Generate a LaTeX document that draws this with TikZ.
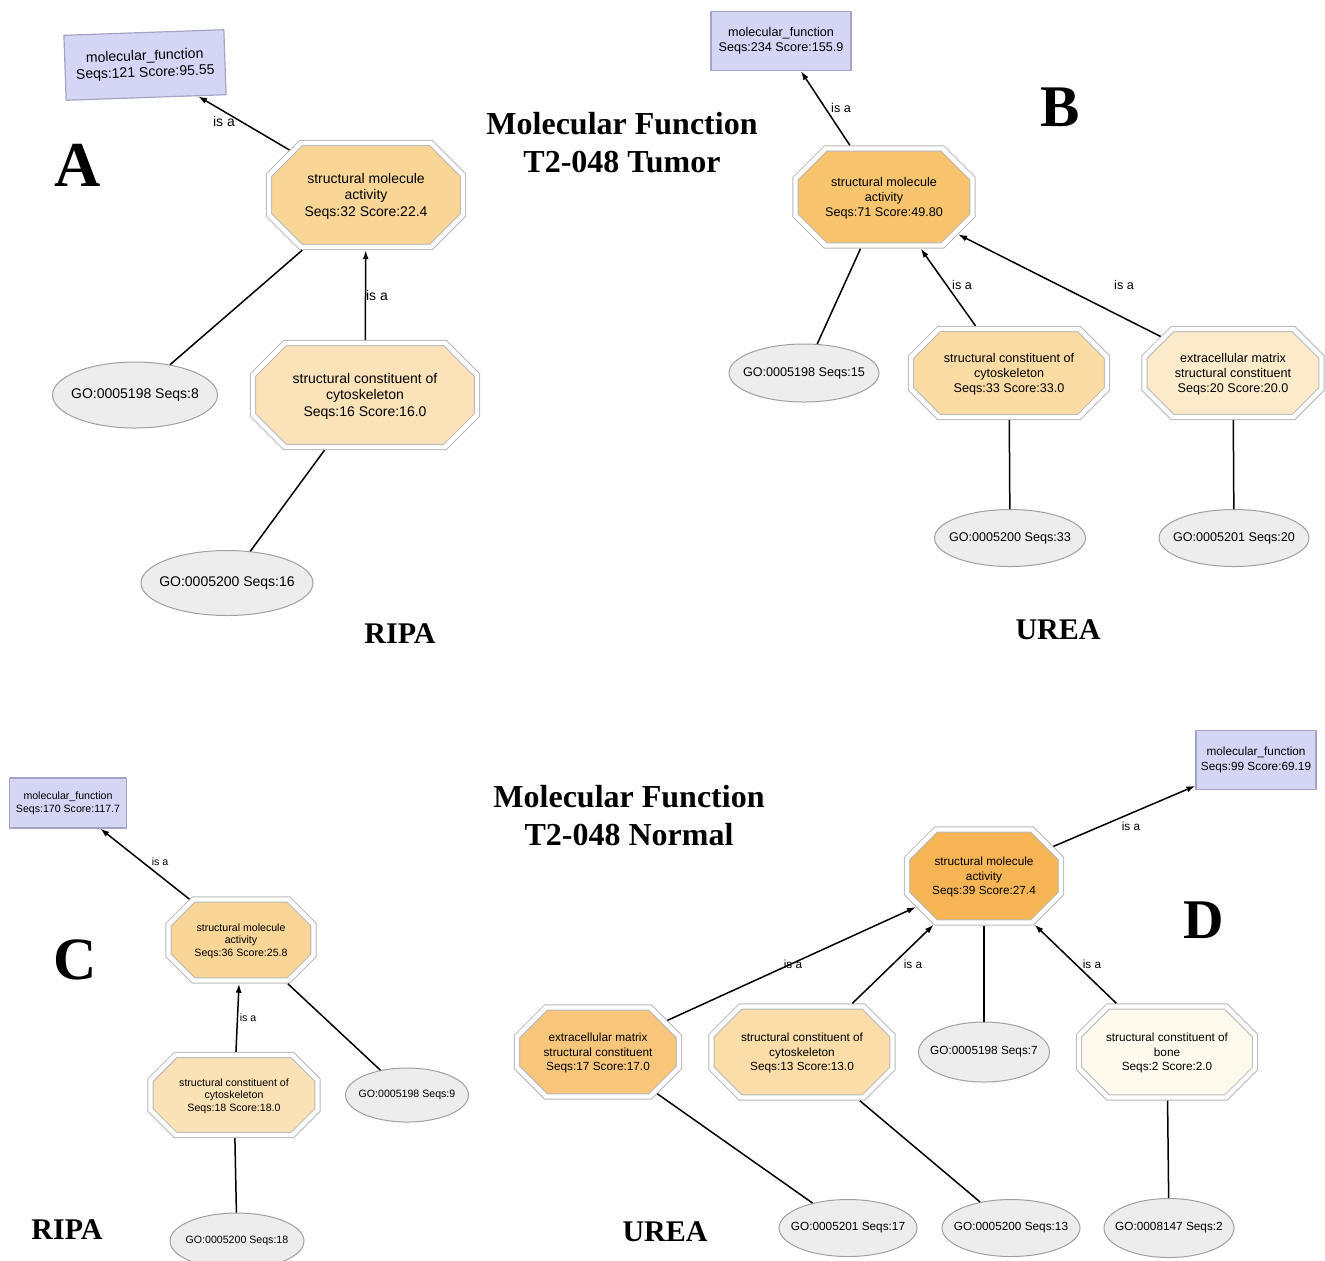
\documentclass[tikz,border=0pt]{standalone}
\usepackage{fontspec}
\setmainfont{Liberation Serif}
\newfontfamily\arial{Liberation Sans}
\usetikzlibrary{shapes.geometric,shapes.misc,arrows.meta}
\definecolor{mffill}{HTML}{D5D5F5}
\definecolor{mfline}{HTML}{A4A4C4}
\definecolor{octline}{HTML}{B8B8B8}
\definecolor{ellfill}{HTML}{EDEDED}
\definecolor{ellline}{HTML}{A0A0A0}
\definecolor{aSma}{HTML}{F9D696}
\definecolor{aCyto}{HTML}{FBE2B8}
\definecolor{bSma}{HTML}{F8C46E}
\definecolor{bCyto}{HTML}{FADBA4}
\definecolor{bEcm}{HTML}{FCEBCB}
\definecolor{cSma}{HTML}{F9D598}
\definecolor{cCyto}{HTML}{FBE1B6}
\definecolor{dSma}{HTML}{F6B555}
\definecolor{dEcm}{HTML}{F8C67A}
\definecolor{dCyto}{HTML}{FADDA9}
\definecolor{dBone}{HTML}{FEFBEE}
\newcommand\fA{\arial\fontsize{7}{8.25}\selectfont}
\newcommand\fB{\arial\fontsize{6.3}{7.5}\selectfont}
\newcommand\fC{\arial\fontsize{5.3}{6.25}\selectfont}
\newcommand\fD{\arial\fontsize{5.9}{7.4}\selectfont}
\newcommand\ztext[1]{\smash{\makebox[0pt]{\raisebox{-0.35em}{\begin{tabular}{@{}c@{}}#1\end{tabular}}}}}
\newcommand\zline[1]{\makebox[0pt]{#1}}
\begin{document}
\begin{tikzpicture}[x=0.5pt,y=-0.5pt,
  mfbox/.style={rectangle, draw=mfline, fill=mffill, align=center, inner sep=0pt, line width=0.6pt},
  oct/.style args={#1/#2/#3}{chamfered rectangle,
    inner xsep=#1pt, inner ysep=#2pt,
    chamfered rectangle xsep=#3pt, chamfered rectangle ysep=#3pt,
    draw=octline, double=white, double distance=2.2pt, line width=0.5pt,
    outer sep=1.6pt},
  goell/.style={ellipse, draw=ellline, fill=ellfill, line width=0.5pt, inner sep=0pt},
  conn/.style={line width=0.75pt, black},
  isa/.style={conn, -{Latex[length=4.5pt,width=3pt]}},
  panel/.style={font=\bfseries\fontsize{#1}{#1}\selectfont, inner sep=0pt},
  title/.style={font=\bfseries\fontsize{16}{19}\selectfont, align=center, inner sep=0pt},
  sub/.style={font=\bfseries\fontsize{15}{15}\selectfont, inner sep=0pt},
  lab/.style={inner sep=0pt}
]
\useasboundingbox (0,0) rectangle (1325,1260);

% ---------------- Panel A ----------------
\node[mfbox, rotate=2, minimum width=80pt, minimum height=32.5pt, font=\fA] (amf) at (145,65) {molecular\_function\\Seqs:121 Score:95.55};
\node[oct={40.5/18/8}, fill=aSma, font=\fA] (asma) at (366,195) {\ztext{structural molecule\\activity\\Seqs:32 Score:22.4}};
\node[oct={48/18/8}, fill=aCyto, font=\fA] (acyto) at (365,395) {\ztext{structural constituent of\\cytoskeleton\\Seqs:16 Score:16.0}};
\node[goell, minimum width=82.5pt, minimum height=33pt, font=\fA] (ago198) at (135,395) {\zline{GO:0005198 Seqs:8}};
\node[goell, minimum width=86pt, minimum height=32.5pt, font=\fA] (ago200) at (227,583) {\zline{GO:0005200 Seqs:16}};
\draw[isa] (asma) -- (amf);
\draw[isa] (acyto) -- (asma);
\draw[conn] (asma) -- (ago198);
\draw[conn] (acyto) -- (ago200);
\node[lab, font=\fA] (alab1) at (224,121) {is a};
\node[lab, font=\fA] (alab2) at (377,295) {is a};
\node[panel=32] (aletter) at (78,165) {A};
\node[sub] (aripa) at (400,634) {RIPA};

\node[title] (t1) at (622,143) {Molecular Function\\T2-048 Tumor};

% ---------------- Panel B ----------------
\node[mfbox, minimum width=70pt, minimum height=29.5pt, font=\fB] (bmf) at (781,41) {molecular\_function\\Seqs:234 Score:155.9};
\node[oct={36.75/16.75/7.5}, fill=bSma, font=\fB] (bsma) at (884,197) {\ztext{structural molecule\\activity\\Seqs:71 Score:49.80}};
\node[oct={42/15/7}, fill=bCyto, font=\fB] (bcyto) at (1009,373) {\ztext{structural constituent of\\cytoskeleton\\Seqs:33 Score:33.0}};
\node[oct={37.25/15/7}, fill=bEcm, font=\fB] (becm) at (1233,373) {\ztext{extracellular matrix\\structural constituent\\Seqs:20 Score:20.0}};
\node[goell, minimum width=75pt, minimum height=29pt, font=\fB] (bgo198) at (804,373) {\zline{GO:0005198 Seqs:15}};
\node[goell, minimum width=75.5pt, minimum height=28.5pt, font=\fB] (bgo200) at (1010,538) {\zline{GO:0005200 Seqs:33}};
\node[goell, minimum width=75pt, minimum height=28.5pt, font=\fB] (bgo201) at (1234,538) {\zline{GO:0005201 Seqs:20}};
\draw[isa] (bsma) -- (bmf);
\draw[isa] (bcyto) -- (bsma);
\draw[isa] (becm) -- (bsma);
\draw[conn] (bsma) -- (bgo198);
\draw[conn] (bcyto) -- (bgo200);
\draw[conn] (becm) -- (bgo201);
\node[lab, font=\fB] (blab1) at (841,108) {is a};
\node[lab, font=\fB] (blab2) at (962,285) {is a};
\node[lab, font=\fB] (blab3) at (1124,285) {is a};
\node[panel=29.5] (bletter) at (1060,107) {B};
\node[sub] (burea) at (1058,630) {UREA};

\node[title] (t2) at (629,816) {Molecular Function\\T2-048 Normal};

% ---------------- Panel C ----------------
\node[mfbox, minimum width=58.5pt, minimum height=25pt, font=\fC] (cmf) at (68,803) {molecular\_function\\Seqs:170 Score:117.7};
\node[oct={30/14/6.25}, fill=cSma, font=\fC] (csma) at (241,940) {\ztext{structural molecule\\activity\\Seqs:36 Score:25.8}};
\node[oct={35.5/13.75/6.25}, fill=cCyto, font=\fC] (ccyto) at (234,1095) {\ztext{structural constituent of\\cytoskeleton\\Seqs:18 Score:18.0}};
\node[goell, minimum width=61.5pt, minimum height=27pt, font=\fC] (cgo198) at (407,1095) {\zline{GO:0005198 Seqs:9}};
\node[goell, minimum width=67pt, minimum height=28pt, font=\fC] (cgo200) at (237,1241) {\zline{GO:0005200 Seqs:18}};
\draw[isa] (csma) -- (cmf);
\draw[isa] (ccyto) -- (csma);
\draw[conn] (csma) -- (cgo198);
\draw[conn] (ccyto) -- (cgo200);
\node[lab, font=\fC] (clab1) at (160,862) {is a};
\node[lab, font=\fC] (clab2) at (248,1018) {is a};
\node[panel=30] (cletter) at (75,960) {C};
\node[sub] (cripa) at (67,1230) {RIPA};

% ---------------- Panel D ----------------
\node[mfbox, minimum width=60pt, minimum height=29.5pt, font=\fD] (dmf) at (1256,760) {molecular\_function\\Seqs:99 Score:69.19};
\node[oct={31.25/16/7.25}, fill=dSma, font=\fD] (dsma) at (984,876) {\ztext{structural molecule\\activity\\Seqs:39 Score:27.4}};
\node[oct={33.25/15/7.25}, fill=dEcm, font=\fD] (decm) at (598,1052) {\ztext{extracellular matrix\\structural constituent\\Seqs:17 Score:17.0}};
\node[oct={38/15.5/7.25}, fill=dCyto, font=\fD] (dcyto) at (802,1052) {\ztext{structural constituent of\\cytoskeleton\\Seqs:13 Score:13.0}};
\node[oct={36.75/15.5/7.25}, fill=dBone, font=\fD] (dbone) at (1167,1052) {\ztext{structural constituent of\\bone\\Seqs:2 Score:2.0}};
\node[goell, minimum width=65.5pt, minimum height=30pt, font=\fD] (dgo198) at (984,1052) {\zline{GO:0005198 Seqs:7}};
\node[goell, minimum width=69pt, minimum height=28.5pt, font=\fD] (dgo201) at (848,1228) {\zline{GO:0005201 Seqs:17}};
\node[goell, minimum width=69pt, minimum height=28.5pt, font=\fD] (dgo200) at (1011,1228) {\zline{GO:0005200 Seqs:13}};
\node[goell, minimum width=65pt, minimum height=29.5pt, font=\fD] (dgo8147) at (1169,1228) {\zline{GO:0008147 Seqs:2}};
\draw[isa] (dsma) -- (dmf);
\draw[isa] (decm) -- (dsma);
\draw[isa] (dcyto) -- (dsma);
\draw[isa] (dbone) -- (dsma);
\draw[conn] (dsma) -- (dgo198);
\draw[conn] (decm) -- (dgo201);
\draw[conn] (dcyto) -- (dgo200);
\draw[conn] (dbone) -- (dgo8147);
\node[lab, font=\fD] (dlab1) at (1131,826) {is a};
\node[lab, font=\fD] (dlab2) at (793,964) {is a};
\node[lab, font=\fD] (dlab3) at (913,964) {is a};
\node[lab, font=\fD] (dlab4) at (1092,964) {is a};
\node[panel=28] (dletter) at (1204,920) {D};
\node[sub] (durea) at (665,1232) {UREA};
\end{tikzpicture}
\end{document}
